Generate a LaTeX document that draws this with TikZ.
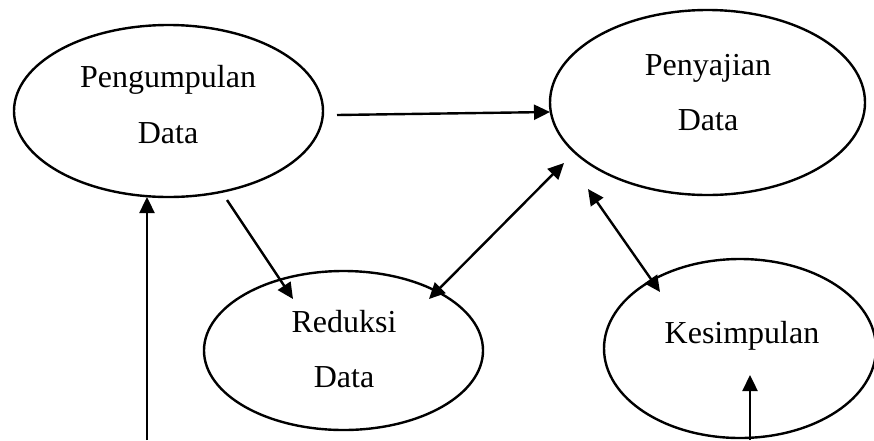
\documentclass[tikz,border=0pt]{standalone}
\usepackage{fontspec}
\setmainfont{Liberation Serif}
\usetikzlibrary{shapes.geometric,arrows.meta}
\begin{document}
\begin{tikzpicture}[x=1pt,y=-1pt,
  oval/.style={draw=black,line width=2.4pt,ellipse,inner sep=0pt},
  txt/.style={anchor=base,inner sep=0pt,font=\fontsize{32}{38}\selectfont},
  tip/.style={Triangle[length=16pt,width=15pt]},
  conn/.style={line width=2.4pt,-{Triangle[length=16pt,width=15pt]}},
  conn2/.style={line width=2.4pt,{Triangle[length=16pt,width=15pt]}-{Triangle[length=16pt,width=15pt]}}]
\useasboundingbox (0,0) rectangle (874,440);
% ellipses
\node[oval,minimum width=309pt,minimum height=172pt] (peng) at (168.5,111) {};
\node[oval,minimum width=315pt,minimum height=185pt] (peny) at (707.5,102.5) {};
\node[oval,minimum width=279pt,minimum height=159pt] (red) at (343.5,350.5) {};
\node[oval,minimum width=272pt,minimum height=179pt] (kes) at (740,348.5) {};
% texts
\node[txt] (pengA) at (168,87) {Pengumpulan};
\node[txt] (pengB) at (168,143) {Data};
\node[txt] (penyA) at (708,75) {Penyajian};
\node[txt] (penyB) at (708,130) {Data};
\node[txt] (redA) at (344,332) {Reduksi};
\node[txt] (redB) at (344,387) {Data};
\node[txt] (kesA) at (742,343) {Kesimpulan};
% connector end points
\coordinate (a1s) at (337,115);
\coordinate (a1e) at (550,112);
\coordinate (a2s) at (227,200);
\coordinate (a2e) at (293,299);
\coordinate (a3s) at (429,299);
\coordinate (a3e) at (564,163);
\coordinate (a4s) at (588,189);
\coordinate (a4e) at (660,292);
\coordinate (a5s) at (147,440);
\coordinate (a5e) at (147,197);
\coordinate (a6s) at (750,440);
\coordinate (a6e) at (750,375);
% connectors
\draw[conn] (a1s) -- (a1e);
\draw[conn] (a2s) -- (a2e);
\draw[conn2] (a3s) -- (a3e);
\draw[conn2] (a4s) -- (a4e);
\draw[conn] (a5s) -- (a5e);
\draw[conn] (a6s) -- (a6e);
\end{tikzpicture}
\end{document}
